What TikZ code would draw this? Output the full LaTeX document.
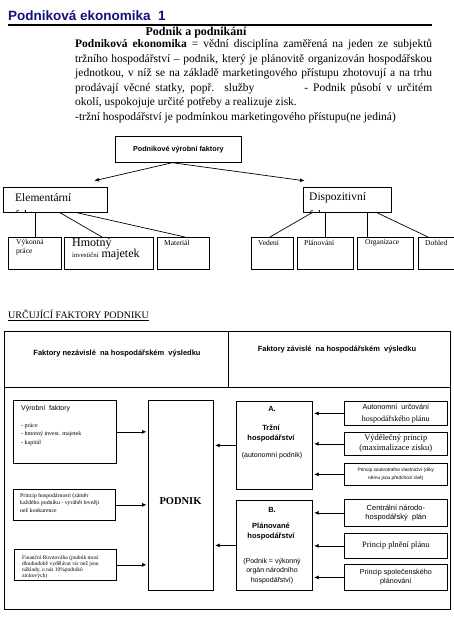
\documentclass[tikz,border=0pt]{standalone}
\usepackage{fontspec}
\setmainfont{Liberation Serif}
\setsansfont{Liberation Sans}
\usetikzlibrary{arrows.meta,positioning,calc}
\definecolor{titleblue}{HTML}{12127A}
\newcommand{\fs}[2]{\fontsize{#1}{#2}\selectfont}
\newcommand{\jline}[1]{\makebox[357pt][s]{#1}}

\begin{document}
\begin{tikzpicture}[x=1pt,y=-1pt,
  box/.style={draw,line width=0.7pt,inner sep=0pt,anchor=north west},
  conn/.style={line width=0.7pt},
  arr/.style={line width=0.7pt,-{Latex[length=4.5pt,width=4pt]},shorten >=1.5pt},
  txt/.style={inner sep=0pt,anchor=west},
  textblock/.style={inner sep=0pt,anchor=north west,align=left},
  sanslab/.style={inner sep=0pt,font=\sffamily\fs{7}{9.5},align=center},
  seriflab/.style={inner sep=0pt,font=\fs{8.5}{10},align=center},
  headlab/.style={inner sep=0pt,font=\sffamily\bfseries\fs{7.5}{10},align=center}]
  \useasboundingbox (0,0) rectangle (454,641);

  % Heading and text
  \node[txt, font=\sffamily\bfseries\fs{13.5}{15}, text=titleblue] (title) at (8,16) {Podniková ekonomika\ \ 1};
  \draw[line width=1.3pt] (8,25) -- (432,25);
  \node[font=\bfseries\fs{12}{14}, inner sep=0pt] (sub) at (196,33) {Podnik a podnikání};
  \node[textblock, font=\fs{11.5}{14.5}] (para) at (75,39) {%
    \jline{\textbf{Podniková ekonomika} = vědní disciplína zaměřená na jeden ze subjektů}\\
    \jline{tržního hospodářství – podnik, který je plánovitě organizován hospodářskou}\\
    \jline{jednotkou, v níž se na základě marketingového přístupu zhotovují a na trhu}\\
    \jline{prodávají věcné statky, popř. služby\hspace{50pt}- Podnik působí v určitém}\\
    okolí, uspokojuje určité potřeby a realizuje zisk.\\
    -tržní hospodářství je podmínkou marketingového přístupu(ne jediná)};

  % Podnikove vyrobni faktory
  \node[box, minimum width=126pt, minimum height=26pt, font=\sffamily\bfseries\fs{7.2}{9}] (pvf) at (115,136) {Podnikové výrobní faktory};
  \node[box, minimum width=104pt, minimum height=25pt] (elem) at (3,187) {};
  \node[box, minimum width=88pt, minimum height=25pt] (disp) at (303,187) {};
  \begin{scope}
    \clip (elem.north west) rectangle (elem.south east);
    \node[txt, font=\fs{11.5}{13}] (elem-t1) at (15,198) {Elementární};
    \node[txt, font=\fs{11.5}{13}] (elem-t2) at (15,216) {faktory};
  \end{scope}
  \begin{scope}
    \clip (disp.north west) rectangle (disp.south east);
    \node[txt, font=\fs{11.5}{13}] (disp-t1) at (309,198) {Dispozitivní};
    \node[txt, font=\fs{11.5}{13}] (disp-t2) at (309,216) {faktory};
  \end{scope}
  \draw[arr] ([xshift=-6pt]pvf.south) -- ([xshift=90pt,yshift=6pt]elem.north west);
  \draw[arr] ([xshift=-6pt]pvf.south) -- ([xshift=3pt,yshift=6pt]disp.north west);

  \foreach \nm/\x/\w in {vyk/8/53, hmot/64/89, mat/157/52, ved/251/42, plan/297/56, org/357/56, doh/418/40}
    \node[box, minimum width=\w pt, minimum height=32pt] (\nm) at (\x,237) {};
  \node[textblock, font=\fs{7.5}{9}] (vyk-t) at (16,239) {Výkonná\\práce};
  \node[txt, font=\fs{12}{13}] (hmot-t1) at (72,244) {Hmotný};
  \node[txt, font=\fs{12}{13}] (hmot-t2) at (72,255) {{\fs{6.8}{8}investiční} majetek};
  \foreach \nm/\x/\t in {mat/164/Materiál, ved/258/Vedení, plan/304/Plánování, org/365/Organizace, doh/425/Dohled}
    \node[txt, font=\fs{7.5}{9}] (\nm-t) at (\x,243) {\t};

  \draw[conn] (vyk.north |- elem.south) -- (vyk.north);
  \draw[conn] ([xshift=57pt]elem.south west) -- ([xshift=38pt]hmot.north west);
  \draw[conn] ([xshift=74pt]elem.south west) -- ([xshift=28pt]mat.north west);
  \draw[conn] ([xshift=9pt]disp.south west) -- ([xshift=19pt]ved.north west);
  \draw[conn] (plan.north |- disp.south) -- (plan.north);
  \draw[conn] ([xshift=64pt]disp.south west) -- ([xshift=10pt]org.north west);
  \draw[conn] ([xshift=74pt]disp.south west) -- ([xshift=10pt]doh.north west);

  % Urcujici faktory podniku
  \node[txt, font=\fs{10}{12}] (urc) at (8,315) {\underline{URČUJÍCÍ FAKTORY PODNIKU}};
  \node[box, minimum width=446pt, minimum height=278pt] (tab) at (4,331) {};
  \coordinate (hdr) at (4,387);
  \coordinate (mid) at (228,331);
  \draw[conn] (hdr) -- (hdr -| tab.east);
  \draw[conn] (mid) -- (mid |- hdr);
  \node[headlab] (hl) at (117,353) {Faktory nezávislé\ \ na hospodářském\ \ výsledku};
  \node[headlab] (hr) at (337,349) {Faktory závislé\ \ na hospodářském\ \ výsledku};

  % left column
  \node[box, minimum width=103pt, minimum height=63pt] (vyr) at (13,400) {};
  \node[box, minimum width=102pt, minimum height=31pt] (hosp) at (13,489) {};
  \node[box, minimum width=102pt, minimum height=31pt] (fin) at (14,549) {};
  \node[txt, font=\sffamily\fs{7}{9}] (vyr-t) at (21,409) {Výrobní\ \ faktory};
  \node[textblock, font=\fs{6}{8.5}] (vyr-l) at (21,423) {- práce\\- hmotný invest. majetek\\- kapitál};
  \node[textblock, font=\fs{5.8}{7.6}] (hosp-t) at (20,493) {Princip hospodárnosti (záměr\\každého podniku - vyrábět levněji\\než konkurence};
  \node[textblock, font=\fs{5.5}{6.2}] (fin-t) at (22,555) {Finanční Rovnováha (podnik musí\\dlouhodobě vydělávat víc než jsou\\náklady, u nás 10\%podniků\\ztrátových)};

  \node[box, minimum width=65pt, minimum height=190pt] (podnik) at (148,400) {};
  \node[font=\bfseries\fs{10.5}{12}, inner sep=0pt] (podnik-t) at (180.5,501) {PODNIK};

  % right column
  \node[box, minimum width=76pt, minimum height=88pt] (trzni) at (236,401) {};
  \node[box, minimum width=76pt, minimum height=90pt] (plano) at (236,500) {};
  \node[headlab] (trzni-a) at (272,409) {A.};
  \node[headlab] (trzni-t) at (271,433) {Tržní\\hospodářství};
  \node[sanslab] (trzni-p) at (272,456) {(autonomní podnik)};
  \node[headlab] (plano-b) at (272,510) {B.};
  \node[headlab] (plano-t) at (271,532) {Plánované\\hospodářství};
  \node[sanslab] (plano-p) at (272,571) {(Podnik = výkonný\\orgán národního\\hospodářství)};

  \node[box, minimum width=103pt, minimum height=24pt, align=center] (aut) at (344,401)
    {{\sffamily\fs{7.2}{9}Autonomní\ \ určování}\\{\fs{8}{9}hospodářského plánu}};
  \node[box, minimum width=103pt, minimum height=23pt, align=center, font=\fs{8.5}{10}] (vyd) at (344,432)
    {Výdělečný princip\\(maximalizace zisku)};
  \node[box, minimum width=103pt, minimum height=22pt, align=center, font=\sffamily\fs{4.8}{8}] (souk) at (344,463)
    {Princip soukromého vlastnictví (díky\\němu jsou předchozí dvě)};
  \node[box, minimum width=103pt, minimum height=27pt, align=center, font=\sffamily\fs{7.5}{9}] (cent) at (344,499)
    {Centrální národo-\\hospodářský\ \ plán};
  \node[box, minimum width=103pt, minimum height=25pt, align=center, font=\fs{8.3}{10}] (plne) at (344,533)
    {Princip plnění plánu};
  \node[box, minimum width=103pt, minimum height=26pt, align=center, font=\sffamily\fs{7.2}{9}] (spol) at (344,564)
    {Princip společenského\\plánování};

  % arrows
  \foreach \src in {vyr, hosp, fin}
    \draw[arr] (\src.east) -- (\src.east -| podnik.west);
  \foreach \src in {trzni, plano}
    \draw[arr] (\src.west) -- (\src.west -| podnik.east);
  \foreach \src/\dst in {aut/trzni, vyd/trzni, souk/trzni, cent/plano, plne/plano, spol/plano}
    \draw[arr] (\src.west) -- (\src.west -| \dst.east);
\end{tikzpicture}
\end{document}
